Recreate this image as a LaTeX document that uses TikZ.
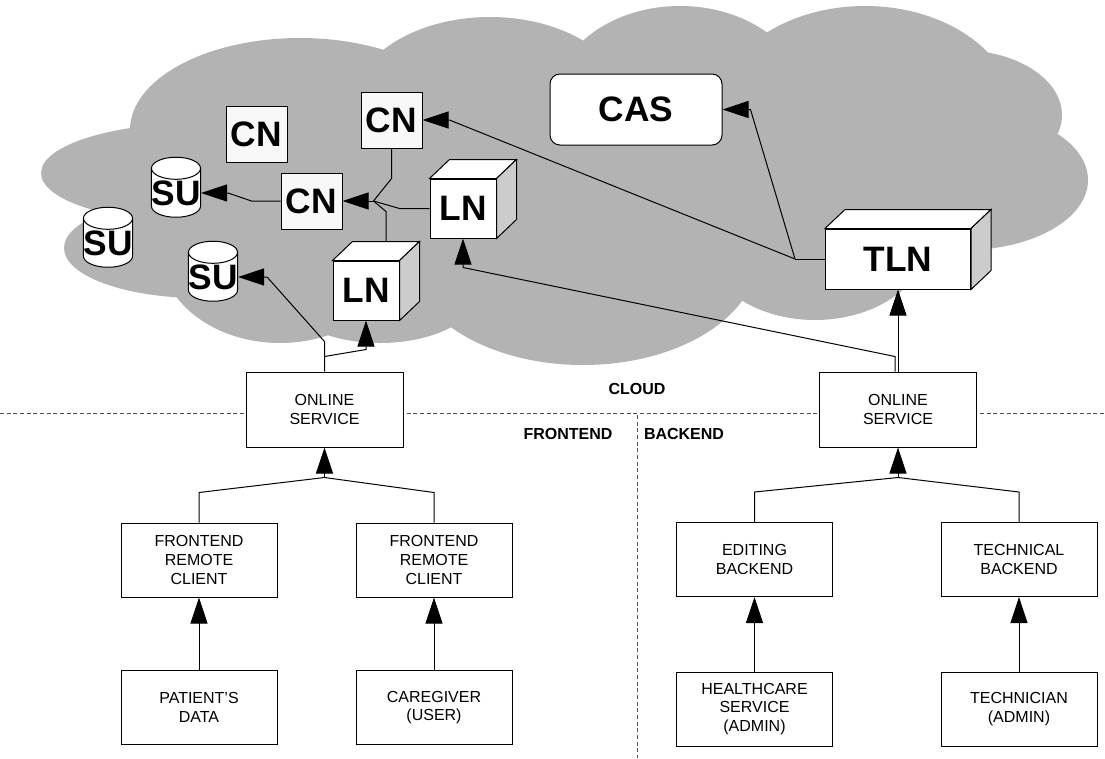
\documentclass[tikz,border=0pt]{standalone}
\usepackage{fontspec}
\setmainfont{Liberation Sans}
\usetikzlibrary{arrows.meta,calc,shapes.geometric,positioning}

\definecolor{cloudgray}{RGB}{179,179,179}
\definecolor{sidegray}{RGB}{204,204,204}
\definecolor{cnfill}{RGB}{248,248,248}
\definecolor{sepgray}{RGB}{80,80,80}

\tikzset{
  bigtext/.style={font=\fontsize{26.5}{30}\selectfont\bfseries},
  cnbox/.style={draw, fill=cnfill, bigtext, minimum width=45.75pt, minimum height=42pt, inner sep=0pt},
  subox/.style={cylinder, shape border rotate=90, aspect=0.45, draw, fill=white, bigtext,
    minimum width=36.75pt, minimum height=45pt, inner sep=0pt},
  lnbox/.style={draw, fill=white, bigtext, minimum width=49.5pt, minimum height=44.25pt, inner sep=0pt},
  tlnbox/.style={lnbox, minimum width=108.75pt, minimum height=45pt},
  casbox/.style={draw, fill=white, rounded corners=7.5pt, bigtext, minimum width=129pt, minimum height=53.25pt},
  plainbox/.style={draw, fill=white, align=center, font=\fontsize{12}{14}\selectfont,
    minimum width=117pt, minimum height=55.5pt},
  servicebox/.style={plainbox, minimum width=117.75pt, minimum height=56.25pt},
  zonelabel/.style={font=\fontsize{12}{14}\selectfont\bfseries},
  link/.style={line width=0.75pt},
  arrowlink/.style={link, -{Triangle[length=19.5pt,width=12.75pt]}},
  zoneline/.style={sepgray, line width=0.75pt, dash pattern=on 3pt off 2pt},
}

% top and side faces of a box node
\newcommand{\cubefaces}[1]{%
  \draw[fill=white] (#1.north west) -- ++(20,-19) -- ($(#1.north east)+(20,-19)$) -- (#1.north east) -- cycle;
  \draw[fill=sidegray] (#1.north east) -- ($(#1.north east)+(20,-19)$) -- ($(#1.south east)+(20,-19)$) -- (#1.south east) -- cycle;
}

\begin{document}
\begin{tikzpicture}[x=0.75pt, y=-0.75pt, line width=0.75pt]
  \useasboundingbox (0,0) rectangle (1105,758);

  % cloud
  \fill[cloudgray]
    (560,190) ellipse [x radius=360, y radius=120]
    (300,130) ellipse [x radius=170, y radius=92]
    (490,110) ellipse [x radius=140, y radius=93]
    (680,100) ellipse [x radius=125, y radius=94]
    (865,115) ellipse [x radius=150, y radius=109]
    (960,115) ellipse [x radius=102, y radius=65]
    (965,180) ellipse [x radius=123, y radius=70]
    (815,235) ellipse [x radius=115, y radius=85]
    (583,255) ellipse [x radius=175, y radius=110]
    (380,290) ellipse [x radius=100, y radius=53]
    (280,250) ellipse [x radius=120, y radius=93]
    (200,248) ellipse [x radius=136, y radius=50]
    (200,173) ellipse [x radius=159, y radius=50];

  % zone separators
  \draw[zoneline] (0,413) -- (1105,413);
  \draw[zoneline] (637,415) -- (637,758);
  \node[zonelabel] (cloudlbl) at (637,389) {CLOUD};
  \node[zonelabel] (frontlbl) at (568,434) {FRONTEND};
  \node[zonelabel] (backlbl) at (684,434) {BACKEND};

  % cloud nodes
  \node[cnbox] (cnA) at (256.5,134) {CN};
  \node[cnbox] (cnTop) at (391.5,120) {CN};
  \node[cnbox] (cnMid) at (311.5,201) {CN};
  \node[subox] (suUp) at (176,193) {SU};
  \node[subox] (suLeft) at (108,243) {SU};
  \node[subox] (suLow) at (213,277) {SU};
  \node[lnbox] (lnUp) at (463,208.5) {LN};
  \node[lnbox] (lnLow) at (366,290.5) {LN};
  \node[tlnbox] (tln) at (898,259) {TLN};
  \node[casbox] (cas) at (636,109.5) {CAS};
  \cubefaces{lnUp}
  \cubefaces{lnLow}
  \cubefaces{tln}

  % services and clients
  \node[servicebox] (osFront) at (324.5,409.5) {ONLINE\\SERVICE};
  \node[servicebox] (osBack) at (898,409.5) {ONLINE\\SERVICE};
  \node[plainbox] (frcA) at (199,560) {FRONTEND\\REMOTE\\CLIENT};
  \node[plainbox] (frcB) at (434,560) {FRONTEND\\REMOTE\\CLIENT};
  \node[plainbox] (patient) at (199,707.5) {PATIENT’S\\DATA};
  \node[plainbox] (caregiver) at (434,707.5) {CAREGIVER\\(USER)};
  \node[plainbox] (editing) at (754.5,559.5) {EDITING\\BACKEND};
  \node[plainbox] (technical) at (1019,559.5) {TECHNICAL\\BACKEND};
  \node[plainbox] (healthcare) at (754.5,709) {HEALTHCARE\\SERVICE\\(ADMIN)};
  \node[plainbox] (technician) at (1019,709) {TECHNICIAN\\(ADMIN)};

  % links inside the cloud
  \coordinate (jct) at ($(cnMid.east)+(31,0)$);
  \draw[arrowlink] (jct) -- (cnMid.east);
  \draw[link] (cnTop.south) -- ++(0,30) -- (jct);
  \draw[link] (lnUp.west) -- ++(-30,0) -- (jct);
  \draw[link] ($(lnLow.north)+(20,-19)$) -- ++(0,-30) -- (jct);
  \draw[arrowlink] (cnMid.west) -- ++(-29,0) -- ($(suUp.east)+(27,0)$) -- (suUp.east);

  \coordinate (tj) at ($(tln.west)+(-30,0)$);
  \draw[link] (tln.west) -- (tj);
  \draw[arrowlink] (tj) -- ($(cnTop.east)+(27,0)$) -- (cnTop.east);
  \draw[arrowlink] (tj) -- ($(cas.east)+(28,0)$) -- (cas.east);

  % links from the online services
  \draw[arrowlink] (osFront.north) -- ++(0,-30) -- ($(suLow.east)+(29,0)$) -- (suLow.east);
  \draw[arrowlink] ($(osFront.north)+(0,-15)$) -- ($(lnLow.south)+(0,29)$) -- (lnLow.south);
  \draw[arrowlink] (osBack.north) -- (tln.south);
  \draw[arrowlink] ($(osBack.north)+(-3,0)$) -- ++(0,-15) -- ($(lnUp.south)+(0,29)$) -- (lnUp.south);

  % frontend tree
  \coordinate (fj) at ($(osFront.south)+(0,30)$);
  \draw[arrowlink] (fj) -- (osFront.south);
  \draw[link] (frcA.north) -- ++(0,-30) -- (fj);
  \draw[link] (frcB.north) -- ++(0,-30) -- (fj);
  \draw[arrowlink] (patient.north) -- (frcA.south);
  \draw[arrowlink] (caregiver.north) -- (frcB.south);

  % backend tree
  \coordinate (bj) at ($(osBack.south)+(0,30)$);
  \draw[arrowlink] (bj) -- (osBack.south);
  \draw[link] (editing.north) -- ++(0,-30) -- (bj);
  \draw[link] (technical.north) -- ++(0,-30) -- (bj);
  \draw[arrowlink] (healthcare.north) -- (editing.south);
  \draw[arrowlink] (technician.north) -- (technical.south);
\end{tikzpicture}
\end{document}
